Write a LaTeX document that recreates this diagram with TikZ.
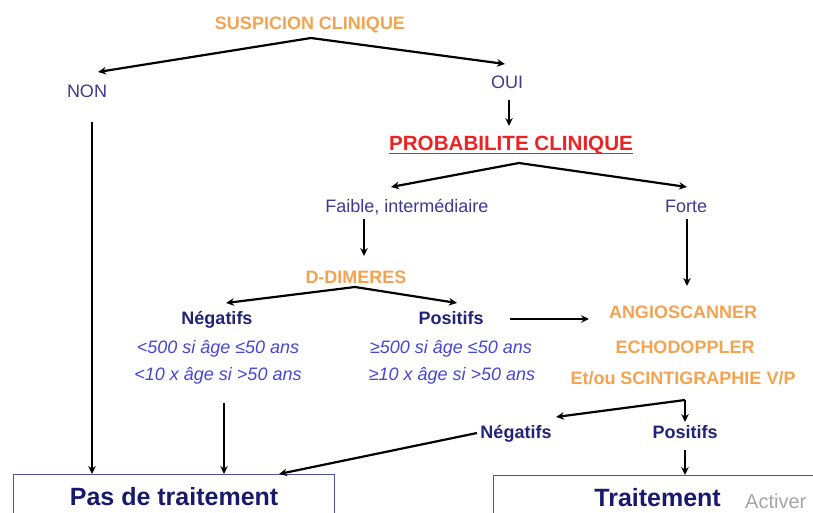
\documentclass[tikz,border=0pt]{standalone}
\usepackage{fontspec}
\setmainfont{Liberation Sans}
\usetikzlibrary{arrows.meta}

\definecolor{examOrange}{RGB}{244,163,80}
\definecolor{probRed}{RGB}{235,35,35}
\definecolor{answerBlue}{RGB}{62,58,145}
\definecolor{resultNavy}{RGB}{35,35,120}
\definecolor{critBlue}{RGB}{70,70,215}
\definecolor{outcomeNavy}{RGB}{25,25,110}
\definecolor{boxBlue}{RGB}{80,80,160}
\definecolor{markGray}{RGB}{165,165,165}

\begin{document}
\begin{tikzpicture}[x=1pt,y=-1pt,
  txt/.style={inner sep=0pt, text height=12.9pt, text depth=0pt,
              font=\fontsize{18}{20}\selectfont},
  exam/.style={txt, text=examOrange, font=\fontsize{18}{20}\selectfont\bfseries},
  answer/.style={txt, text=answerBlue},
  result/.style={txt, text=resultNavy, font=\fontsize{18}{20}\selectfont\bfseries},
  crit/.style={txt, text=critBlue, font=\fontsize{18}{20}\selectfont\itshape},
  heading/.style={inner sep=0pt, text height=14.8pt, text depth=0pt, text=probRed,
              font=\fontsize{20.6}{22}\selectfont\bfseries},
  outcome/.style={draw=boxBlue, line width=1.2pt, text=outcomeNavy,
              font=\fontsize{25}{27}\selectfont\bfseries,
              inner xsep=0pt, inner ysep=3.5pt, text height=27pt, text depth=40pt,
              anchor=north west},
  watermark/.style={inner sep=0pt, text=markGray, font=\fontsize{20}{22}\selectfont},
  arr/.style={line width=2.2pt, -{Stealth[length=8pt,width=7.5pt]}},
]
\useasboundingbox (0,0) rectangle (813,512);
\fill[white] (0,0) rectangle (813,512);
\clip (0,0) rectangle (813,512);

% --- texts ---
\node[exam]   (susp)   at (310,23)  {SUSPICION CLINIQUE};
\node[answer] (non)    at (87,91)   {NON};
\node[answer] (oui)    at (507,82)  {OUI};
\node[heading](prob)   at (511,143) {PROBABILITE CLINIQUE};
\draw[probRed, line width=1.6pt] ([yshift=-3pt]prob.south west) -- ([yshift=-3pt]prob.south east);
\node[answer] (faible) at (407,206) {Faible, intermédiaire};
\node[answer] (forte)  at (686,206) {Forte};
\node[exam]   (ddim)   at (356,277) {D-DIMERES};
\node[result] (dneg)   at (217,318) {Négatifs};
\node[result] (dpos)   at (451,318) {Positifs};
\node[crit]   (dnegA)  at (218,347) {<500 si âge ≤50 ans};
\node[crit]   (dnegB)  at (218,374) {<10 x âge si >50 ans};
\node[crit]   (dposA)  at (451,347) {≥500 si âge ≤50 ans};
\node[crit]   (dposB)  at (452,374) {≥10 x âge si >50 ans};
\node[exam]   (angio)  at (683,312) {ANGIOSCANNER};
\node[exam]   (echo)   at (685,347) {ECHODOPPLER};
\node[exam]   (scinti) at (683,378) {Et/ou SCINTIGRAPHIE V/P};
\node[result] (ineg)   at (516,432) {Négatifs};
\node[result] (ipos)   at (685,432) {Positifs};

% --- outcome boxes ---
\node[outcome, minimum width=321pt] (pas)   at (13,474)  {Pas de traitement};
\node[outcome, minimum width=328pt] (trait) at (493,475) {Traitement};
\node[watermark, anchor=base west] (activ) at (745,508) {Activer};

% --- branch points and arrow ends ---
\coordinate (suspFork) at (311,38);
\coordinate (nonIn)    at (98,72);
\coordinate (ouiIn)    at (505,64);
\coordinate (ouiOut)   at (509,100);
\coordinate (probIn)   at (509,126);
\coordinate (nonOut)   at (92,122);
\coordinate (probFork) at (519,163);
\coordinate (faibleIn) at (391,187);
\coordinate (forteIn)  at (687,187);
\coordinate (faibleOut)at (364,219);
\coordinate (ddimIn)   at (364,256);
\coordinate (forteOut) at (687,219);
\coordinate (angioIn)  at (687,286);
\coordinate (ddimFork) at (355,287);
\coordinate (dnegIn)   at (226,303);
\coordinate (dposIn)   at (457,303);
\coordinate (dposOut)  at (510,319);
\coordinate (scanIn)   at (589,319);
\coordinate (dnegOut)  at (224,403);
\coordinate (scanFork) at (685,400);
\coordinate (inegIn)   at (556,417);
\coordinate (iposIn)   at (685,422);
\coordinate (inegOut)  at (477,433);
\coordinate (pasIn)    at (279,474);
\coordinate (iposOut)  at (685,450);

% --- connectors ---
\draw[arr] (suspFork) -- (nonIn);
\draw[arr] (suspFork) -- (ouiIn);
\draw[arr] (ouiOut) -- (probIn);
\draw[arr] (nonOut) -- (nonOut |- pas.north);
\draw[arr] (probFork) -- (faibleIn);
\draw[arr] (probFork) -- (forteIn);
\draw[arr] (faibleOut) -- (ddimIn);
\draw[arr] (forteOut) -- (angioIn);
\draw[arr] (ddimFork) -- (dnegIn);
\draw[arr] (ddimFork) -- (dposIn);
\draw[arr] (dposOut) -- (scanIn);
\draw[arr] (dnegOut) -- (dnegOut |- pas.north);
\draw[arr] (scanFork) -- (inegIn);
\draw[arr] (scanFork) -- (iposIn);
\draw[arr] (inegOut) -- (pasIn);
\draw[arr] (iposOut) -- (iposOut |- trait.north);
\end{tikzpicture}
\end{document}
